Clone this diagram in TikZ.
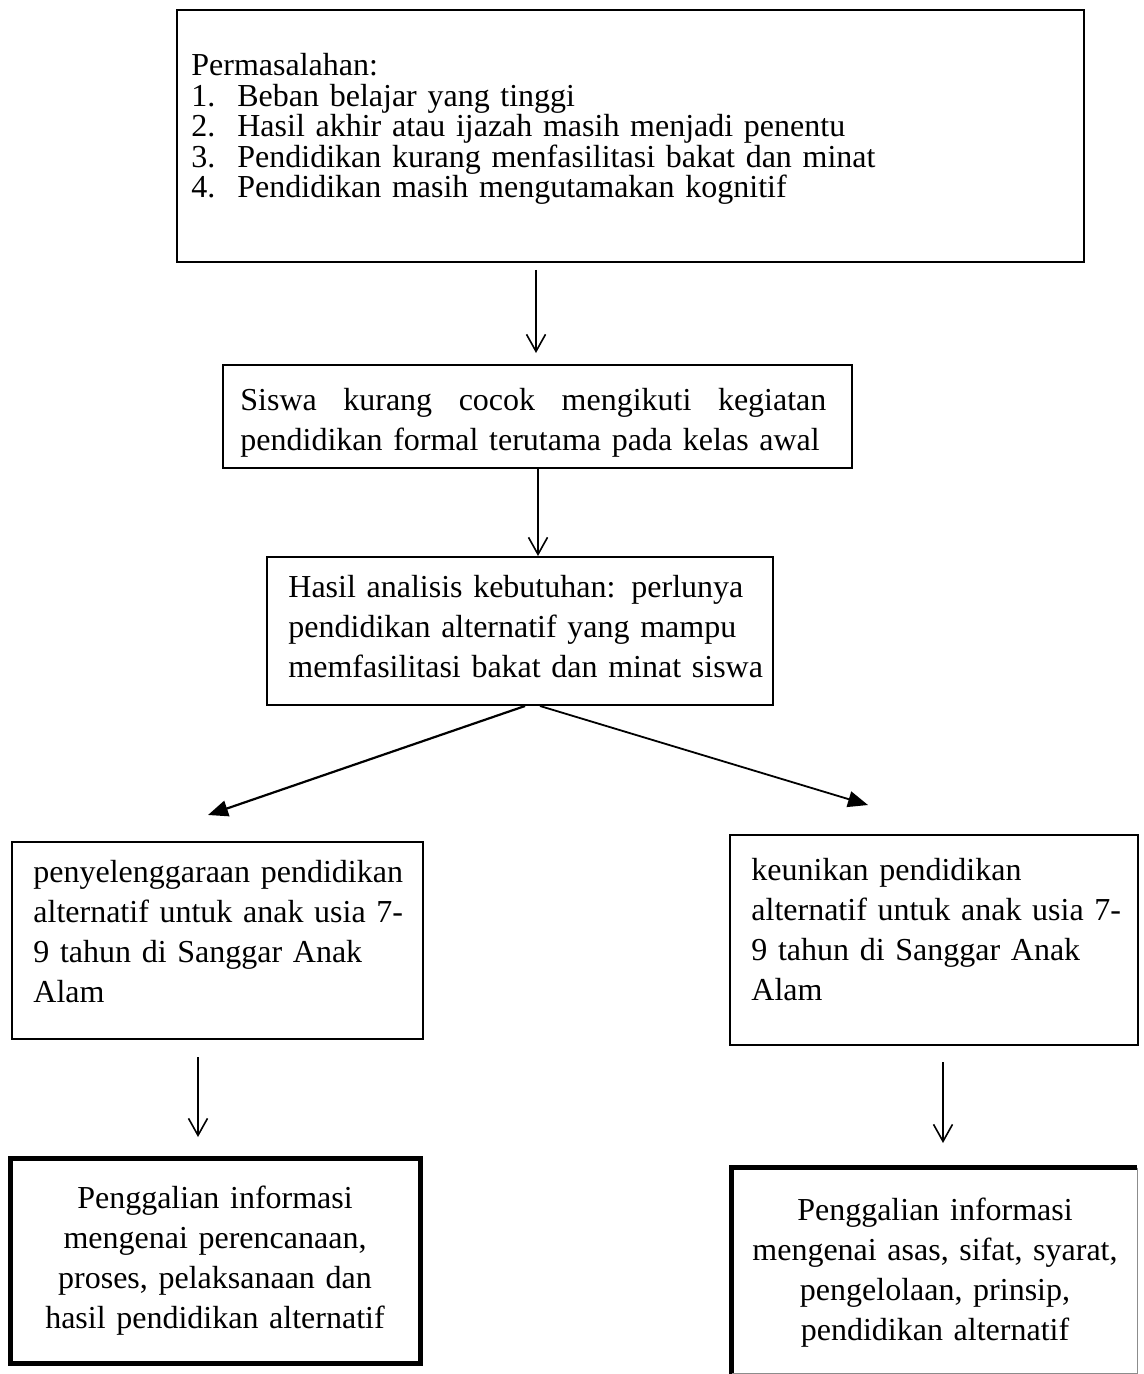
\documentclass[tikz,border=0pt]{standalone}
\usepackage{fontspec}
\setmainfont{Liberation Serif}
\usetikzlibrary{arrows.meta,fit}
\begin{document}
\begin{tikzpicture}[x=0.5pt,y=-0.5pt,
  box/.style={draw, line width=1.35pt, inner sep=0pt},
  thickbox/.style={draw, line width=2.5pt, inner sep=0pt},
  plainbox/.style={inner sep=0pt},
  txt/.style={inner sep=0pt, font=\fontsize{16pt}{20pt}\selectfont, anchor=base west, align=left},
  ctxt/.style={inner sep=0pt, font=\fontsize{16pt}{20pt}\selectfont, anchor=base, align=center},
  varrow/.style={line width=0.8pt, -{Straight Barb[length=8.5pt,width=9.5pt]}},
  darrow/.style={line width=1.1pt, -{Triangle[length=10pt,width=8pt]}}]
\useasboundingbox (0,0) rectangle (1144,1374);
% boxes
\node[box, fit={(177,10)(1084,262)}] (b1) {};
\node[txt, text width=440pt, font=\fontsize{16pt}{15.25pt}\selectfont] (t1) at (191,76)
  {Permasalahan:\\
   \makebox[23pt][l]{1.}Beban belajar yang tinggi\\
   \makebox[23pt][l]{2.}Hasil akhir atau ijazah masih menjadi penentu\\
   \makebox[23pt][l]{3.}Pendidikan kurang menfasilitasi bakat dan minat\\
   \makebox[23pt][l]{4.}Pendidikan masih mengutamakan kognitif};

\node[box, fit={(223,365)(852,468)}] (b2) {};
\node[txt, text width=300pt] (t2) at (240,410)
  {\makebox[293pt][l]{Siswa\hfill kurang\hfill cocok\hfill mengikuti\hfill kegiatan}\\
   pendidikan formal terutama pada kelas awal};

\node[box, fit={(267,557)(773,705)}] (b3) {};
\node[txt, text width=250pt] (t3) at (288,597)
  {Hasil analisis kebutuhan: perlunya\\
   pendidikan alternatif yang mampu\\
   memfasilitasi bakat dan minat siswa};

\node[box, fit={(12,842)(423,1039)}] (b4) {};
\node[txt, text width=200pt] (t4) at (33,882)
  {penyelenggaraan pendidikan\\
   alternatif untuk anak usia 7-\\
   9 tahun di Sanggar Anak\\
   Alam};

\node[box, fit={(730,835)(1138,1045)}] (b5) {};
\node[txt, text width=200pt] (t5) at (751,880)
  {keunikan pendidikan\\
   alternatif untuk anak usia 7-\\
   9 tahun di Sanggar Anak\\
   Alam};

\node[thickbox, fit={(10,1158)(420,1363)}] (b6) {};
\node[ctxt, text width=200pt] (t6) at (215,1208)
  {Penggalian informasi\\
   mengenai perencanaan,\\
   proses, pelaksanaan dan\\
   hasil pendidikan alternatif};

\node[plainbox, fit={(732,1168)(1137,1373)}] (b7) {};
\draw[line width=2.5pt] ([yshift=-4pt]b7.south west) -- (b7.north west) -- (b7.north east);
\draw[line width=0.7pt, black!45] (b7.north east) -- (b7.south east) -- (b7.south west);
\node[ctxt, text width=200pt] (t7) at (935,1220)
  {Penggalian informasi\\
   mengenai asas, sifat, syarat,\\
   pengelolaan, prinsip,\\
   pendidikan alternatif};

% arrow end points
\coordinate (a1s) at (536,270);
\coordinate (a1e) at (536,353);
\coordinate (a2s) at (538,469);
\coordinate (a2e) at (538,556);
\coordinate (d1s) at (525,706);
\coordinate (d1e) at (208,815);
\coordinate (d2s) at (540,706);
\coordinate (d2e) at (868,805);
\coordinate (a3s) at (198,1057);
\coordinate (a3e) at (198,1137);
\coordinate (a4s) at (943,1062);
\coordinate (a4e) at (943,1143);

\draw[varrow] (a1s) -- (a1e);
\draw[varrow] (a2s) -- (a2e);
\draw[darrow] (d1s) -- (d1e);
\draw[darrow, line width=0.9pt] (d2s) -- (d2e);
\draw[varrow] (a3s) -- (a3e);
\draw[varrow] (a4s) -- (a4e);
\end{tikzpicture}
\end{document}
